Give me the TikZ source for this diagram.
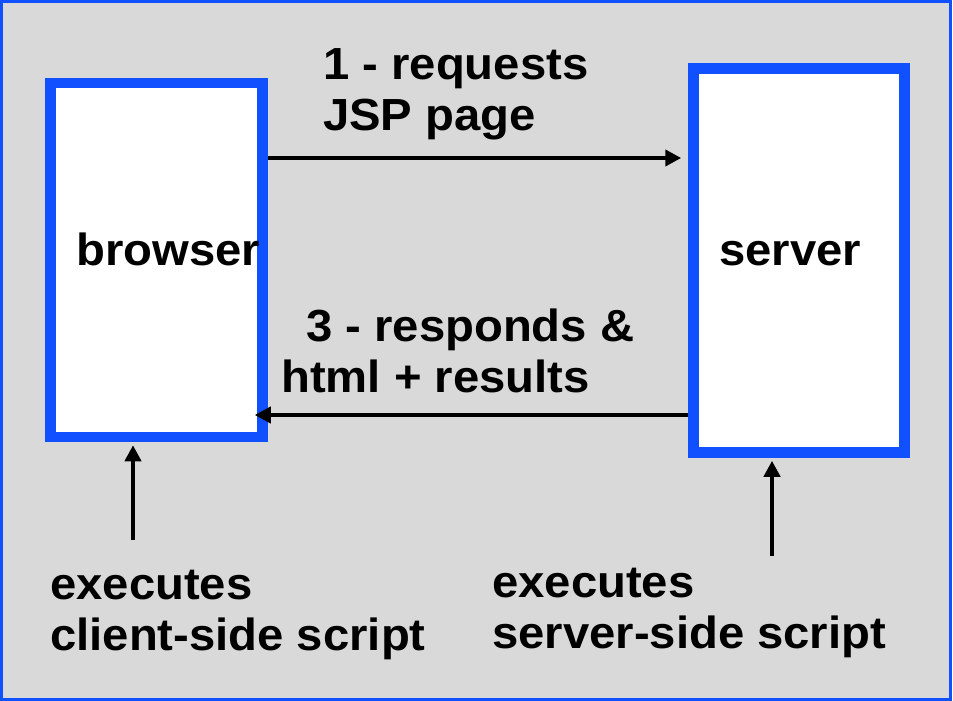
\documentclass[tikz,border=0pt]{standalone}
\usepackage{fontspec}
\setmainfont{Liberation Sans}[FakeStretch=1.05]
\usetikzlibrary{arrows.meta}
\definecolor{frameblue}{RGB}{16,80,255}
\definecolor{bggray}{RGB}{217,217,217}
\tikzset{
  hostbox/.style={draw=frameblue, line width=10.5pt, fill=white, inner sep=0pt},
  lbl/.style={anchor=base west, inner sep=0pt, align=left,
    font=\bfseries\fontsize{45}{51}\selectfont},
  arr/.style={line width=4.5pt, -{Triangle[length=16pt,width=16pt]}},
}
\begin{document}
\begin{tikzpicture}[x=1pt,y=-1pt]
\useasboundingbox (0,0) rectangle (953,701);
\draw[frameblue, line width=3pt, fill=bggray] (1.5,1.5) rectangle (950.5,699.5);

\node[hostbox, minimum width=212pt, minimum height=354pt] (browser) at (156.5,260) {};
\node[hostbox, minimum width=211pt, minimum height=384pt] (server) at (799,260.5) {};

\node[lbl] (blabel) at (76,265) {browser};
\node[lbl] (slabel) at (719,265) {server};
\node[lbl] (req) at (323,130) {1 - requests\\JSP page};
\node[lbl] (resp) at (281,392) {\hspace*{25pt}3 - responds \&\\html + results};
\node[lbl] (cexec) at (50,650) {executes\\client-side script};
\node[lbl] (sexec) at (492,648) {executes\\server-side script};

\coordinate (y1) at (0,158);
\coordinate (y3) at (0,415);
\coordinate (cfoot) at (133,540);
\coordinate (sfoot) at (772,556);

\draw[arr, shorten >=7pt] (browser.east |- y1) -- (server.west |- y1);
\draw[arr, shorten >=-13pt] (server.west |- y3) -- (browser.east |- y3);
\draw[arr, shorten >=3pt] (cfoot) -- (cfoot |- browser.south);
\draw[arr, shorten >=3pt] (sfoot) -- (sfoot |- server.south);
\end{tikzpicture}
\end{document}
